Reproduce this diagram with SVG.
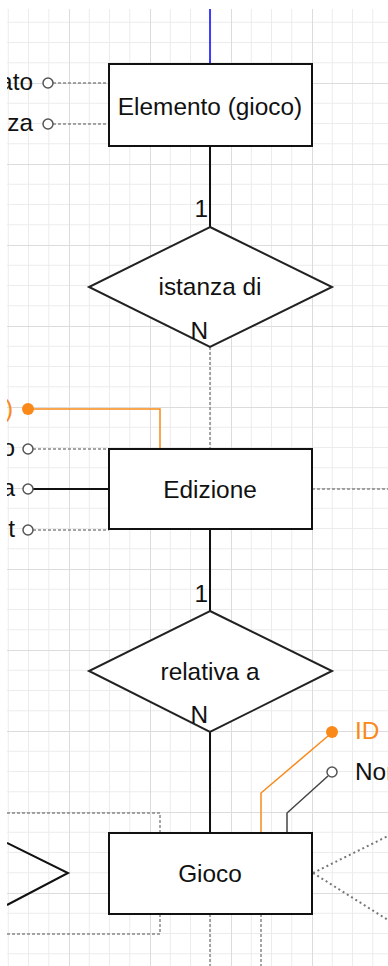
<svg xmlns="http://www.w3.org/2000/svg" width="388" height="966" viewBox="0 0 388 966">
<style>
text{font-family:"Liberation Sans",Arial,sans-serif;font-size:24.4px;fill:#111}
.c{text-anchor:middle}
.e{text-anchor:end}
.ent{fill:#fff;stroke:#111;stroke-width:2}
.rel{fill:#fff;stroke:#222;stroke-width:2}
.solid{fill:none;stroke:#111;stroke-width:2}
.dash{fill:none;stroke:#888;stroke-width:1.5;stroke-dasharray:3 2}
.dot{fill:none;stroke:#777;stroke-width:2;stroke-dasharray:2 3}
.attr{fill:#fff;stroke:#555;stroke-width:1.5}
.key{fill:#f98a1a;stroke:none}
.orange{fill:none;stroke:#f98a1a;stroke-width:1.5}
.okey{fill:#f98a1a}
</style>
<defs>
<pattern id="grid" patternUnits="userSpaceOnUse" x="-12" y="2" width="81" height="81">
<path d="M20.25 0V81M40.5 0V81M60.75 0V81M0 20.25H81M0 40.5H81M0 60.75H81" stroke="#ececec" stroke-width="1" fill="none"/>
<path d="M0.5 0V81M0 0.5H81" stroke="#dcdcdc" stroke-width="1" fill="none"/>
</pattern>
<clipPath id="view"><rect x="7" y="9" width="381" height="957"/></clipPath>
</defs>
<rect width="388" height="966" fill="#fff"/>
<g clip-path="url(#view)">
<rect x="7" y="9" width="381" height="957" fill="url(#grid)"/>
<g id="connectors">
<path d="M210 9V64" fill="none" stroke="#0000ff" stroke-width="1.5"/>
<path class="solid" d="M210 146V227"/>
<path class="dash" d="M210 347V449"/>
<path class="solid" d="M210 529V611"/>
<path class="solid" d="M210 732V833"/>
<path class="dash" d="M312 489H388"/>
<path class="dash" d="M7 813H160V833"/>
<path class="dash" d="M160 914V934H7"/>
<path class="solid" d="M7 843L68 873L7 905"/>
<path class="dot" d="M313 873L388 836M313 873L388 920"/>
<path class="dash" d="M210 914V966M261 914V966"/>
</g>
<g id="attr-elemento">
<path class="dash" d="M53 83H109M53 124H109"/>
<circle class="attr" cx="48" cy="83" r="5"/>
<circle class="attr" cx="48" cy="124" r="5"/>
<text class="e" x="33" y="90">ato</text>
<text class="e" x="33" y="131">za</text>
</g>
<g id="attr-edizione">
<path class="orange" d="M28 409H160V449"/>
<circle class="key" cx="28" cy="409" r="6"/>
<text class="e okey" x="13" y="417">)</text>
<path class="dash" d="M33 449H109M33 530H109"/>
<path class="solid" d="M33 489H109"/>
<circle class="attr" cx="28" cy="449" r="5"/>
<circle class="attr" cx="28" cy="489" r="5"/>
<circle class="attr" cx="28" cy="530" r="5"/>
<text class="e" x="15" y="456">o</text>
<text class="e" x="15" y="496">a</text>
<text class="e" x="15" y="537">t</text>
</g>
<g id="attr-gioco">
<path class="orange" d="M261 833V793L328 736"/>
<circle class="key" cx="332" cy="732" r="6"/>
<text class="okey" x="355" y="739">ID</text>
<path fill="none" stroke="#444" stroke-width="1.5" d="M287 833V813L328 776"/>
<circle class="attr" cx="332" cy="772" r="5"/>
<text x="355" y="780">Nome</text>
</g>
<g id="elemento">
<rect class="ent" x="109" y="64" width="203" height="82"/>
<text class="c" x="210" y="114.5">Elemento (gioco)</text>
</g>
<g id="istanza-di">
<polygon class="rel" points="210,227 332,287 210,347 89,287"/>
<text class="c" x="210" y="295">istanza di</text>
</g>
<g id="edizione">
<rect class="ent" x="109" y="449" width="203" height="80"/>
<text class="c" x="210" y="498">Edizione</text>
</g>
<g id="relativa-a">
<polygon class="rel" points="210,611 332,671 210,732 89,671"/>
<text class="c" x="210" y="680">relativa a</text>
</g>
<g id="gioco">
<rect class="ent" x="109" y="833" width="203" height="81"/>
<text class="c" x="210" y="882">Gioco</text>
</g>
<g id="cardinalities">
<text class="e" x="208" y="217">1</text>
<text class="e" x="208" y="339">N</text>
<text class="e" x="208" y="602">1</text>
<text class="e" x="208" y="723">N</text>
</g>
</g>
</svg>
